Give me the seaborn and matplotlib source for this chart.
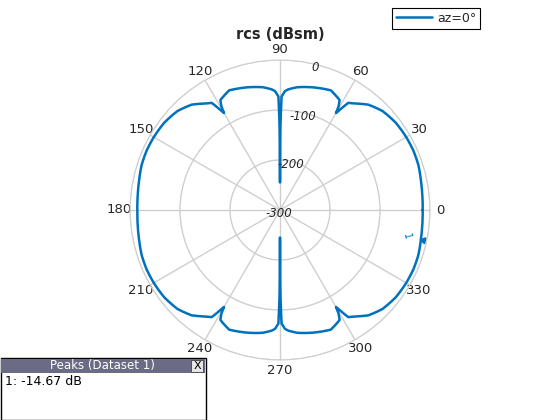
import numpy as np
import pandas as pd
import seaborn as sns
import matplotlib.pyplot as plt
from matplotlib.patches import Rectangle

# quarter pattern (0..90 deg); the cut is symmetric about both axes
quad_deg = [0, 5, 9, 13, 18, 24, 30, 37, 44, 50, 55, 57.5, 58.8, 59.7, 60,
            60.5, 61.5, 62.5, 67, 75, 82, 86, 87.6, 89.2, 89.7, 90]
quad_db = [-14.7, -14, -13, -11.5, -9, -8, -8.5, -10, -15, -25, -40, -46, -62, -73, -76,
           -62, -50, -48, -40, -46, -52, -58, -62, -73, -130, -245]

peak_deg = -12
peak_db = -14.67
peak_label = "1: -14.67 dB"
tick_deg = list(range(0, 360, 30))
r_ticks = [-300, -200, -100, 0]

# unfold the quarter into the full 0..360 cut
q = np.array(quad_deg)
v = np.array(quad_db)
theta = np.concatenate([q, 180 - q[::-1], 180 + q, 360 - q[::-1]])
rcs = np.concatenate([v, v[::-1], v, v[::-1]])
df = pd.DataFrame({"theta": np.deg2rad(theta), "rcs": rcs})

sns.set_style("white")
plt.rcParams["font.family"] = ["DejaVu Sans"]
blue = "#0072BD"
grid_c = "#cfcfcf"

fig = plt.figure(figsize=(5.6, 4.2), dpi=100)
ax = fig.add_axes([130 / 560, 60 / 420, 300 / 560, 300 / 420], projection="polar")

sns.lineplot(data=df, x="theta", y="rcs", ax=ax, sort=False, estimator=None,
             color=blue, lw=1.8, label="az=0°")
# draw segments as arcs in (theta, r) rather than straight chords
ax.lines[0].get_path()._interpolation_steps = 24

# peak marker
ax.plot(np.deg2rad(peak_deg), -7, marker=(3, 0, -12 + 90), ms=5, color=blue, clip_on=False)
ax.text(np.deg2rad(peak_deg), -42, "1", color=blue, fontsize=7, rotation=-78,
        ha="center", va="center")

ax.set_ylim(-300, 0)
ax.set_yticks(r_ticks)
ax.set_yticklabels([])
for t in r_ticks:
    ax.annotate(str(t), (np.deg2rad(76), t), xytext=(-0.7, -2.5), textcoords="offset points",
                fontsize=8.5, fontstyle="italic", ha="center", va="center")
ax.set_thetagrids(tick_deg, labels=[str(t) for t in tick_deg], fontsize=9.5)
ax.tick_params(axis="x", pad=-3)
ax.grid(True, color=grid_c, lw=1)
ax.spines["polar"].set_color(grid_c)
ax.set_xlabel("")
ax.set_ylabel("")
ax.set_title("rcs (dBsm)", fontsize=10.5, fontweight="bold", pad=3)

leg = ax.legend(loc="upper right", bbox_to_anchor=(480 / 560, 1 - 8 / 420),
                bbox_transform=fig.transFigure, fontsize=9, fancybox=False,
                framealpha=1, edgecolor="black", borderpad=0.3, handlelength=2.9,
                handletextpad=0.4, borderaxespad=0)
leg.get_frame().set_linewidth(0.8)

# peaks readout box at the lower left
W, H = 560, 420
fig.patches.append(Rectangle((0.5 / W, 0), 205 / W, 62 / H, transform=fig.transFigure,
                             facecolor="white", edgecolor="black", lw=1))
fig.patches.append(Rectangle((1 / W, 47 / H), 204 / W, 14 / H, transform=fig.transFigure,
                             facecolor="#6b6b85", edgecolor="none"))
fig.patches.append(Rectangle((191 / W, 48 / H), 12 / W, 12 / H, transform=fig.transFigure,
                             facecolor="#e6e6e6", edgecolor="#444444", lw=0.6))
fig.text(102 / W, 54 / H, "Peaks (Dataset 1)", color="white", fontsize=8.5,
         ha="center", va="center")
fig.text(197 / W, 54 / H, "X", color="black", fontsize=8, ha="center", va="center")
fig.text(5 / W, 38.5 / H, peak_label, color="black", fontsize=9, ha="left", va="center")

fig.savefig("out.png", dpi=100)
